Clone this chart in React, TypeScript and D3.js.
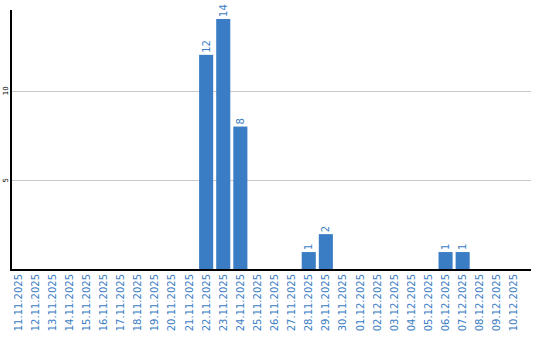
import React from "react";
import * as d3 from "d3";

const dates = [
  "11.11.2025","12.11.2025","13.11.2025","14.11.2025","15.11.2025","16.11.2025","17.11.2025","18.11.2025","19.11.2025","20.11.2025",
  "21.11.2025","22.11.2025","23.11.2025","24.11.2025","25.11.2025","26.11.2025","27.11.2025","28.11.2025","29.11.2025","30.11.2025",
  "01.12.2025","02.12.2025","03.12.2025","04.12.2025","05.12.2025","06.12.2025","07.12.2025","08.12.2025","09.12.2025","10.12.2025",
];
const counts = [0,0,0,0,0,0,0,0,0,0,0,12,14,8,0,0,0,1,2,0,0,0,0,0,0,1,1,0,0,0];
const yTicks = [5, 10];

const W = 540, H = 340;
const left = 11, bottom = 270, top = 10, right = 531;
const step = 17;

export default function App() {
  const x = d3.scaleBand<string>().domain(dates).range([left, left + step * dates.length]).paddingInner(3 / 17).paddingOuter(0).align(0);
  const y = d3.scaleLinear().domain([0, 14.5]).range([bottom, top]);
  const blue = "#3b7dc4";
  const font = "DejaVu Sans, sans-serif";
  return (
    <svg width={W} height={H} style={{ position: "absolute", left: 0, top: 0 }}>
      {yTicks.map((t) => (
        <g key={t}>
          <line x1={left} x2={right} y1={Math.round(y(t)) + 0.5} y2={Math.round(y(t)) + 0.5} stroke="#c8c8c8" strokeWidth={1} />
          <text transform={`translate(8,${y(t)}) rotate(-90)`} textAnchor="middle" fontSize={7} fontFamily={font} fill="#000">{t}</text>
        </g>
      ))}
      {dates.map((d, i) => {
        const v = counts[i];
        const bx = left + i * step;
        return (
          <g key={d}>
            {v > 0 && (
              <>
                <rect x={x(d)} y={y(v)} width={x.bandwidth()} height={bottom - y(v)} fill={blue} />
                <text transform={`translate(${(x(d) as number) + x.bandwidth() / 2 + 3.5},${y(v) - 2}) rotate(-90)`} fontSize={10} fontFamily={font} fill={blue}>{v}</text>
              </>
            )}
            <text transform={`translate(${(x(d) as number) + x.bandwidth() / 2 + 3.5},274) rotate(-90)`} textAnchor="end" fontSize={10} fontFamily={font} fill={blue}>{d}</text>
          </g>
        );
      })}
      <line x1={left} x2={left} y1={top} y2={bottom + 1} stroke="#000" strokeWidth={2} />
      <line x1={left - 1} x2={right} y1={bottom} y2={bottom} stroke="#000" strokeWidth={2} />
    </svg>
  );
}
